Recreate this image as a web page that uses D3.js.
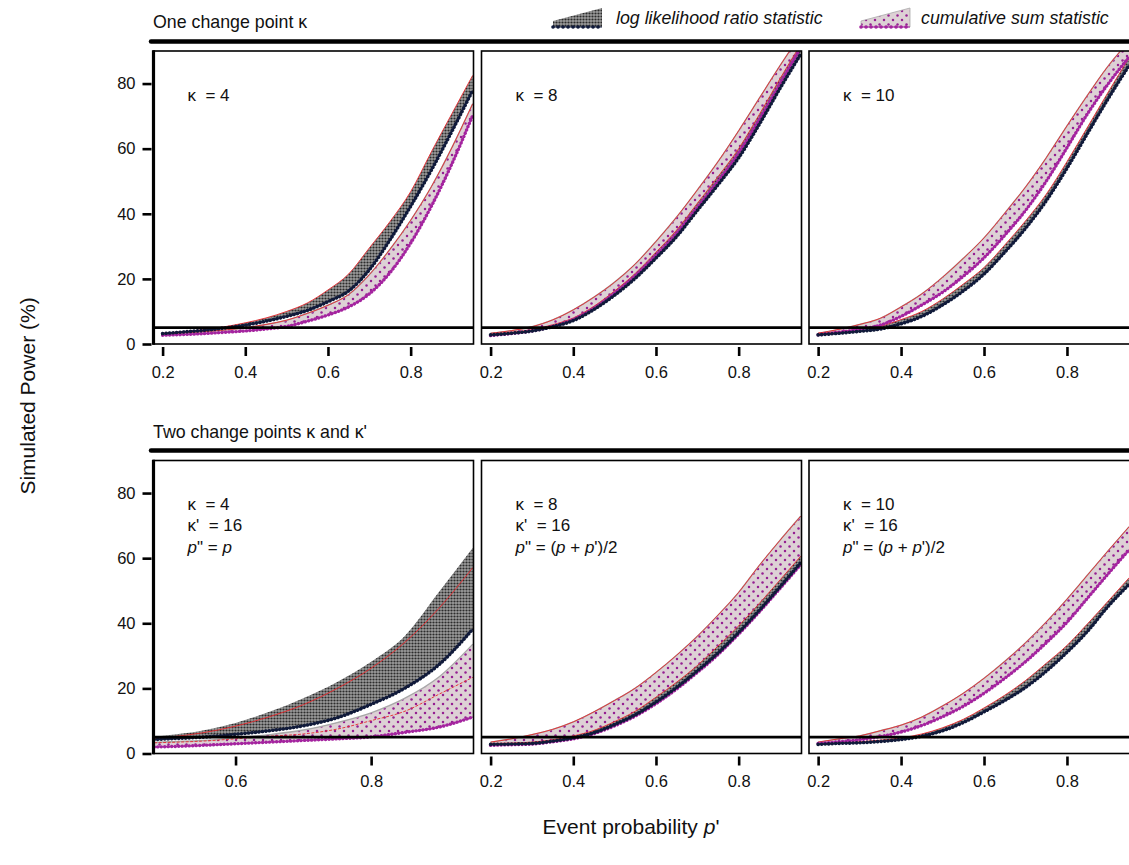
<!DOCTYPE html>
<html>
<head>
<meta charset="utf-8">
<script src="https://cdn.jsdelivr.net/npm/d3@7"></script>
<style>
body { margin: 0; background: #fff; }
text { font-family: "Liberation Sans", Arial, Helvetica, sans-serif; fill: #111; }
</style>
</head>
<body>
<div id="chart"></div>
<script>
// event probability p' grid (x values)
var pGrid = [0.20,0.25,0.30,0.35,0.40,0.45,0.50,0.55,0.60,0.65,0.70,0.75,0.80,0.85,0.90,0.95];
var pGridK4 = [0.48,0.50,0.55,0.60,0.65,0.70,0.75,0.80,0.85,0.90,0.95];

// one change point, kappa = 4
var oneK4LlrHi = [3.3,3.8,4.4,5.3,6.5,8.0,10.0,12.6,16.6,21.5,29.5,37.6,46.8,59.0,70.8,82.5];
var oneK4LlrLo = [3.2,3.7,4.2,4.9,5.8,7.0,8.5,10.3,13.0,16.3,22.8,32.0,42.3,53.4,65.4,77.9];
var oneK4CsHi  = [3.0,3.4,3.8,4.3,5.0,6.0,7.3,9.4,11.9,15.2,21.3,29.1,38.0,48.3,60.4,73.8];
var oneK4CsLo  = [2.7,2.9,3.2,3.6,4.0,4.6,5.4,7.0,8.9,11.4,15.4,21.9,31.0,42.3,55.4,70.2];

// one change point, kappa = 8
var oneK8LlrHi = [3.0,3.6,4.4,5.9,8.0,11.6,16.3,21.7,28.2,35.0,43.2,51.4,60.0,70.5,81.5,92.0];
var oneK8LlrLo = [2.8,3.3,4.0,5.3,7.2,10.6,15.0,20.2,26.4,33.0,41.0,48.9,57.2,67.5,78.5,89.0];
var oneK8CsHi  = [3.3,4.1,5.3,7.4,10.5,14.4,19.0,24.6,31.5,39.0,47.3,56.0,65.5,75.5,85.5,95.0];
var oneK8CsLo  = [2.6,3.2,4.0,5.4,7.5,11.0,15.6,21.0,27.3,34.0,42.0,50.0,58.7,69.0,80.0,91.0];

// one change point, kappa = 10
var oneK10LlrHi = [3.3,3.8,4.6,5.5,7.5,10.0,13.8,18.4,23.5,30.4,37.8,46.0,56.0,66.7,77.5,88.0];
var oneK10LlrLo = [2.8,3.3,3.9,4.6,6.2,8.5,12.0,16.3,21.5,28.2,35.5,44.0,54.0,64.8,75.5,85.6];
var oneK10CsHi  = [3.3,4.5,6.0,7.9,11.4,15.4,20.5,26.3,32.6,40.2,48.2,57.2,67.0,76.5,85.5,93.0];
var oneK10CsLo  = [2.8,3.6,4.5,5.8,8.5,12.0,15.9,20.8,26.5,33.4,41.0,50.0,60.3,70.8,80.0,88.2];

// two change points, kappa = 4, kappa' = 16
var twoK4LlrHi  = [5.1,5.6,7.0,9.4,12.8,17.0,22.0,28.2,36.2,49.6,63.2];
var twoK4LlrMid = [4.6,5.0,6.3,8.4,11.3,15.0,20.0,26.2,34.2,44.6,57.1];
var twoK4LlrLo  = [4.3,4.5,5.0,5.9,7.0,8.5,11.0,15.1,20.1,27.3,38.2];
var twoK4CsHi   = [3.4,3.6,4.0,4.8,5.8,7.2,9.5,12.5,17.0,23.5,33.6];
var twoK4CsMid  = [3.3,3.4,3.8,4.5,5.3,6.0,7.5,10.1,13.0,18.2,23.4];
var twoK4CsLo   = [2.0,2.1,2.5,3.0,3.5,4.0,4.5,5.1,6.5,8.1,11.2];

// two change points, kappa = 8, kappa' = 16
var twoK8LlrHi = [3.1,3.2,3.5,4.2,5.4,7.1,9.8,13.0,17.3,21.9,27.0,33.0,39.2,46.1,53.3,60.6];
var twoK8LlrLo = [2.8,2.9,3.1,3.8,4.8,6.4,8.9,11.9,15.8,20.3,25.4,30.9,37.2,44.0,51.2,58.6];
var twoK8CsHi  = [3.5,4.5,5.8,7.4,9.7,12.8,16.3,20.1,24.9,30.2,36.0,42.5,49.5,57.8,65.5,72.9];
var twoK8CsLo  = [2.5,2.7,2.9,3.6,4.5,6.1,8.5,11.5,15.3,19.8,24.9,30.4,36.7,43.5,50.7,58.0];

// two change points, kappa = 10, kappa' = 16
var twoK10LlrHi = [3.1,3.3,3.6,4.1,4.8,6.0,7.9,10.5,14.0,17.9,22.4,27.7,33.2,39.9,46.9,54.0];
var twoK10LlrLo = [2.8,3.1,3.3,3.7,4.3,5.3,7.0,9.5,12.8,16.3,20.3,25.3,31.1,37.6,45.3,52.0];
var twoK10CsHi  = [3.5,4.5,5.4,7.0,8.7,11.2,14.6,18.5,23.1,28.3,34.0,40.4,47.4,54.9,62.4,69.7];
var twoK10CsLo  = [3.1,3.6,4.2,5.2,6.6,8.6,11.3,14.5,18.5,23.1,28.2,34.0,40.3,47.8,55.3,62.6];

var yTicks = [0, 20, 40, 60, 80];
var xTicksWide = [0.2, 0.4, 0.6, 0.8];
var xTicksNarrow = [0.6, 0.8];
var alphaLevel = 5;

function init() {
    var w = 1129, h = 865;
    var svg = d3.select("#chart").append("svg")
        .attr("width", w).attr("height", h);

    var defs = svg.append("defs");
    var pat = defs.append("pattern").attr("id", "llrFill")
        .attr("width", 3).attr("height", 3).attr("patternUnits", "userSpaceOnUse");
    pat.append("rect").attr("width", 3).attr("height", 3).attr("fill", "#9c9c9c");
    pat.append("circle").attr("cx", 1.5).attr("cy", 1.5).attr("r", 1.1).attr("fill", "#2c2c2c");

    var pat2 = defs.append("pattern").attr("id", "csFill")
        .attr("width", 9).attr("height", 9).attr("patternUnits", "userSpaceOnUse");
    pat2.append("rect").attr("width", 9).attr("height", 9).attr("fill", "#ddd1d5");
    pat2.append("circle").attr("cx", 2).attr("cy", 2).attr("r", 1.25).attr("fill", "#951f92");
    pat2.append("circle").attr("cx", 6.5).attr("cy", 6.5).attr("r", 1.25).attr("fill", "#951f92");

    var rows = [{ top: 51, bottom: 344 }, { top: 460.5, bottom: 753.5 }];
    var cols = [{ x0: 153.5, x1: 473.5 }, { x0: 481.5, x1: 801.5 }, { x0: 809, x1: 1130 }];

    var panels = [
        { row: 0, col: 0, p: pGrid, llrLo: oneK4LlrLo, llrHi: oneK4LlrHi, csLo: oneK4CsLo, csHi: oneK4CsHi,
          label: [[["κ  = 4"]]] },
        { row: 0, col: 1, p: pGrid, llrLo: oneK8LlrLo, llrHi: oneK8LlrHi, csLo: oneK8CsLo, csHi: oneK8CsHi,
          label: [[["κ  = 8"]]] },
        { row: 0, col: 2, p: pGrid, llrLo: oneK10LlrLo, llrHi: oneK10LlrHi, csLo: oneK10CsLo, csHi: oneK10CsHi,
          label: [[["κ  = 10"]]] },
        { row: 1, col: 0, p: pGridK4, llrLo: twoK4LlrLo, llrHi: twoK4LlrHi, llrMid: twoK4LlrMid,
          csLo: twoK4CsLo, csHi: twoK4CsHi, csMid: twoK4CsMid,
          label: [[["κ  = 4"]], [["κ'  = 16"]], [["p", 1], ["\" = "], ["p", 1]]] },
        { row: 1, col: 1, p: pGrid, llrLo: twoK8LlrLo, llrHi: twoK8LlrHi, csLo: twoK8CsLo, csHi: twoK8CsHi,
          label: [[["κ  = 8"]], [["κ'  = 16"]], [["p", 1], ["\" = ("], ["p", 1], [" + "], ["p", 1], ["')/2"]]] },
        { row: 1, col: 2, p: pGrid, llrLo: twoK10LlrLo, llrHi: twoK10LlrHi, csLo: twoK10CsLo, csHi: twoK10CsHi,
          label: [[["κ  = 10"]], [["κ'  = 16"]], [["p", 1], ["\" = ("], ["p", 1], [" + "], ["p", 1], ["')/2"]]] }
    ];

    panels.forEach(function (d, k) {
        var r = rows[d.row], c = cols[d.col];
        var dom = (d.row == 1 && d.col == 0) ? [0.479, 0.951] : [0.178, 0.952];
        var x = d3.scaleLinear().domain(dom).range([c.x0, c.x1]);
        var y = d3.scaleLinear().domain([0, 90]).range([r.bottom, r.top]);
        var idx = d3.range(d.p.length);

        defs.append("clipPath").attr("id", "clip" + k)
            .append("rect").attr("x", c.x0).attr("y", r.top)
            .attr("width", c.x1 - c.x0).attr("height", r.bottom - r.top);

        var g = svg.append("g");
        var inner = g.append("g").attr("clip-path", "url(#clip" + k + ")");

        function band(lo, hi) {
            return d3.area().curve(d3.curveMonotoneX)
                .x(function (i) { return x(d.p[i]); })
                .y0(function (i) { return y(lo[i]); })
                .y1(function (i) { return y(hi[i]); })(idx);
        }
        function line(v) {
            return d3.line().curve(d3.curveMonotoneX)
                .x(function (i) { return x(d.p[i]); })
                .y(function (i) { return y(v[i]); })(idx);
        }

        // cusum band
        inner.append("path").attr("d", band(d.csLo, d.csHi)).attr("fill", "url(#csFill)");
        inner.append("path").attr("d", line(d.csHi)).attr("fill", "none")
            .attr("stroke", "#a8a8a8").attr("stroke-width", 1.4);
        // llr band
        inner.append("path").attr("d", band(d.llrLo, d.llrHi)).attr("fill", "url(#llrFill)");

        // red lines
        inner.append("path").attr("d", line(d.csMid || d.csHi)).attr("fill", "none")
            .attr("stroke", "#e8282c").attr("stroke-width", 0.9)
            .attr("stroke-dasharray", d.csMid ? "3,1.5" : null);
        inner.append("path").attr("d", line(d.llrMid || d.llrHi)).attr("fill", "none")
            .attr("stroke", "#e8282c").attr("stroke-width", 0.9);

        // lower edges as bead chains
        inner.append("path").attr("d", line(d.csLo)).attr("fill", "none")
            .attr("stroke", "#a4249f").attr("stroke-width", 1.1);
        inner.append("path").attr("d", line(d.csLo)).attr("fill", "none")
            .attr("stroke", "#a4249f").attr("stroke-width", 3.4)
            .attr("stroke-linecap", "round").attr("stroke-dasharray", "0.1,3.4");
        inner.append("path").attr("d", line(d.llrLo)).attr("fill", "none")
            .attr("stroke", "#101a3a").attr("stroke-width", 1.1);
        inner.append("path").attr("d", line(d.llrLo)).attr("fill", "none")
            .attr("stroke", "#101a3a").attr("stroke-width", 3.6)
            .attr("stroke-linecap", "round").attr("stroke-dasharray", "0.1,3.4");

        // 5% reference line
        g.append("line").attr("x1", c.x0).attr("x2", c.x1)
            .attr("y1", y(alphaLevel)).attr("y2", y(alphaLevel))
            .attr("stroke", "#000").attr("stroke-width", 2.8);

        // frame
        g.append("rect").attr("x", c.x0).attr("y", r.top)
            .attr("width", c.x1 - c.x0).attr("height", r.bottom - r.top)
            .attr("fill", "none").attr("stroke", "#000").attr("stroke-width", 1.6);

        // x axis
        var xAxis = d3.axisBottom(x)
            .tickValues(d.row == 1 && d.col == 0 ? xTicksNarrow : xTicksWide)
            .tickSize(9).tickPadding(10).tickFormat(d3.format(".1f"));
        var ax = g.append("g").attr("transform", "translate(0," + (r.bottom + 3) + ")").call(xAxis);
        ax.attr("font-size", null).attr("font-family", null);
        ax.select(".domain").remove();
        ax.selectAll("line").attr("stroke", "#000").attr("stroke-width", 2.6);
        ax.selectAll("text").attr("font-size", 16.5).attr("fill", "#111");

        if (d.col == 0) {
            g.append("line").attr("x1", c.x0).attr("x2", c.x0)
                .attr("y1", r.top - 0.8).attr("y2", r.bottom + 0.8)
                .attr("stroke", "#000").attr("stroke-width", 3.2);
            var yAxis = d3.axisLeft(y).tickValues(yTicks).tickSize(9).tickPadding(7);
            var ay = g.append("g").attr("transform", "translate(" + (c.x0 - 2) + ",0)").call(yAxis);
            ay.attr("font-size", null).attr("font-family", null);
            ay.select(".domain").remove();
            ay.selectAll("line").attr("stroke", "#000").attr("stroke-width", 2.6);
            ay.selectAll("text").attr("font-size", 16.5).attr("fill", "#111");
        }

        // panel annotation
        var baseY = d.row == 0 ? r.top + 50 : r.top + 49;
        d.label.forEach(function (segs, j) {
            var t = g.append("text").attr("x", c.x0 + 34).attr("y", baseY + j * 21.5)
                .attr("font-size", 17).attr("xml:space", "preserve").style("white-space", "pre");
            segs.forEach(function (s) {
                t.append("tspan").text(s[0]).attr("font-style", s[1] ? "italic" : "normal");
            });
        });
    });

    // strip headers
    var headers = [
        { text: "One change point κ", y: 28, line: 41.5 },
        { text: "Two change points κ and κ'", y: 438, line: 450.5 }
    ];
    headers.forEach(function (hd) {
        svg.append("text").attr("x", 153).attr("y", hd.y).attr("font-size", 17.8).text(hd.text);
        svg.append("line").attr("x1", 151).attr("x2", 1135).attr("y1", hd.line).attr("y2", hd.line)
            .attr("stroke", "#000").attr("stroke-width", 4.5).attr("stroke-linecap", "round");
    });

    // legend
    var legend = [
        { x: 553, label: "log likelihood ratio statistic", fill: "url(#llrFill)", edge: "#101a3a", tx: 616 },
        { x: 861, label: "cumulative sum statistic", fill: "url(#csFill)", edge: "#a4249f", tx: 921 }
    ];
    legend.forEach(function (lg) {
        var sw = 49;
        svg.append("path")
            .attr("d", "M" + lg.x + ",27 L" + lg.x + ",21 L" + (lg.x + sw) + ",8 L" + (lg.x + sw) + ",27 Z")
            .attr("fill", lg.fill).attr("stroke", lg.edge == "#a4249f" ? "#aaa" : "none").attr("stroke-width", 0.8);
        svg.append("line").attr("x1", lg.x).attr("x2", lg.x + sw).attr("y1", 27).attr("y2", 27)
            .attr("stroke", lg.edge).attr("stroke-width", 1.2);
        svg.append("line").attr("x1", lg.x).attr("x2", lg.x + sw).attr("y1", 27).attr("y2", 27)
            .attr("stroke", lg.edge).attr("stroke-width", 3.6)
            .attr("stroke-linecap", "round").attr("stroke-dasharray", "0.1,4.9");
        svg.append("text").attr("x", lg.tx).attr("y", 24).attr("font-size", 17.8)
            .attr("font-style", "italic").text(lg.label);
    });

    // axis titles
    svg.append("text").attr("transform", "translate(35,396) rotate(-90)")
        .attr("text-anchor", "middle").attr("font-size", 21).text("Simulated Power (%)");
    var xt = svg.append("text").attr("x", 631).attr("y", 834)
        .attr("text-anchor", "middle").attr("font-size", 21);
    xt.append("tspan").text("Event probability ");
    xt.append("tspan").attr("font-style", "italic").text("p");
    xt.append("tspan").text("'");
}

window.onload = init;
</script>
</body>
</html>
